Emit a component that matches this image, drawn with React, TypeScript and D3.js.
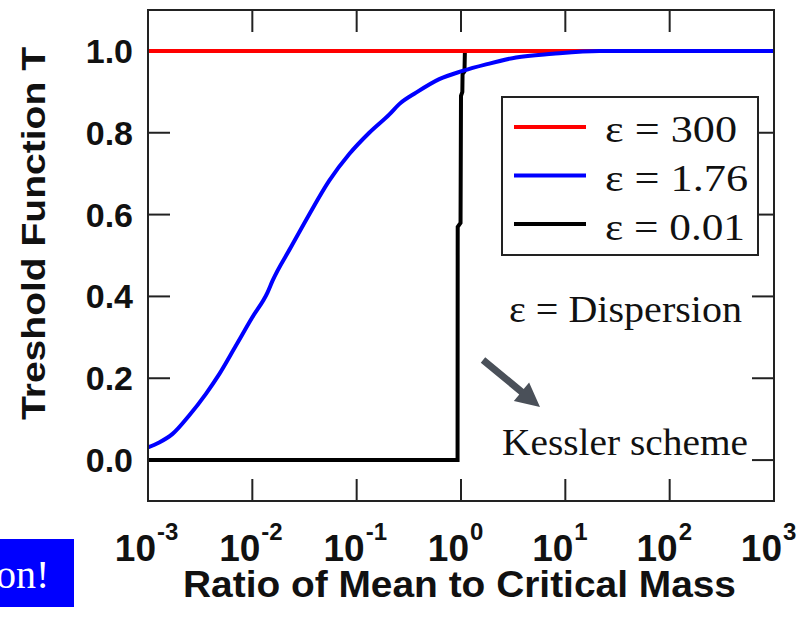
import React from "react";
import * as d3 from "d3";

// Threshold function T versus ratio of mean to critical mass, for three dispersions
const blueX = [0.001, 0.00128, 0.00172, 0.00248, 0.00359, 0.00482, 0.00697, 0.01, 0.014, 0.0156, 0.0234, 0.0338, 0.0546, 0.0849, 0.132, 0.206, 0.256, 0.371, 0.619, 1.035, 1.74, 3.37, 7.55, 21.2, 1000];
const blueT = [0.031, 0.043, 0.064, 0.109, 0.162, 0.21, 0.28, 0.349, 0.41, 0.438, 0.52, 0.593, 0.683, 0.748, 0.8, 0.845, 0.87, 0.898, 0.931, 0.951, 0.967, 0.984, 0.993, 1.0, 1.0];

const redX = [0.001, 1000];
const redT = [1.0, 1.0];

const blackX = [0.001, 0.927, 0.93, 0.99, 1.0, 1.03, 1.035, 1.08, 1.09, 1000];
const blackT = [0, 0, 0.57, 0.58, 0.89, 0.9, 0.943, 0.95, 1.0, 1.0];

const yTicks = [0, 0.2, 0.4, 0.6, 0.8, 1.0];
const xExponents = [-3, -2, -1, 0, 1, 2, 3];

const legendLabels = ["\u03b5 = 300", "\u03b5 = 1.76", "\u03b5 = 0.01"];
const legendWidths = [132, 143, 140];
const seriesColors = ["#ff0000", "#0000ff", "#000000"];

const W = 803;
const H = 621;
const plot = { left: 148, right: 774, top: 10, bottom: 501 };

export default function App() {
  const x = d3.scaleLog().domain([1e-3, 1e3]).range([plot.left, plot.right]);
  const y = d3.scaleLinear().domain([-0.1, 1.1]).range([plot.bottom, plot.top]);

  const line = d3
    .line<[number, number]>()
    .x((d) => x(d[0]))
    .y((d) => y(d[1]));

  const blueLine = d3
    .line<[number, number]>()
    .x((d) => x(d[0]))
    .y((d) => y(d[1]))
    .curve(d3.curveMonotoneX);

  const zip = (xs: number[], ts: number[]) => xs.map((v, i) => [v, ts[i]] as [number, number]);

  const tickLen = 22;
  const sans = "'Liberation Sans', Arial, Helvetica, sans-serif";
  const serif = "'Liberation Serif', 'Times New Roman', serif";

  // Annotation arrow pointing at the step curve
  const a0 = [483, 360];
  const a1 = [540, 407];
  const ang = Math.atan2(a1[1] - a0[1], a1[0] - a0[0]);
  const shaftW = 7;
  const headL = 24;
  const headW = 24;
  const ux = Math.cos(ang), uy = Math.sin(ang);
  const px = -uy, py = ux;
  const hb = [a1[0] - ux * headL, a1[1] - uy * headL];
  const arrowPts = [
    [a0[0] + px * shaftW / 2, a0[1] + py * shaftW / 2],
    [hb[0] + px * shaftW / 2, hb[1] + py * shaftW / 2],
    [hb[0] + px * headW / 2, hb[1] + py * headW / 2],
    [a1[0], a1[1]],
    [hb[0] - px * headW / 2, hb[1] - py * headW / 2],
    [hb[0] - px * shaftW / 2, hb[1] - py * shaftW / 2],
    [a0[0] - px * shaftW / 2, a0[1] - py * shaftW / 2],
  ];

  const legend = { x: 502, y: 97, w: 256, h: 158 };

  return (
    <svg
      width={W}
      height={H}
      style={{ position: "absolute", left: 0, top: 0, background: "#fff" }}
    >
      <rect x={0} y={0} width={W} height={H} fill="#fff" />

      {/* inward ticks on all four sides */}
      <g stroke="#222" strokeWidth={2}>
        {yTicks.map((t) => (
          <g key={"yt" + t}>
            <line x1={plot.left} x2={plot.left + tickLen} y1={y(t)} y2={y(t)} />
            <line x1={plot.right} x2={plot.right - tickLen} y1={y(t)} y2={y(t)} />
          </g>
        ))}
        {xExponents.slice(1, -1).map((e) => (
          <g key={"xt" + e}>
            <line x1={x(10 ** e)} x2={x(10 ** e)} y1={plot.bottom} y2={plot.bottom - tickLen} />
            <line x1={x(10 ** e)} x2={x(10 ** e)} y1={plot.top} y2={plot.top + tickLen} />
          </g>
        ))}
      </g>

      {/* series */}
      <path d={line(zip(blackX, blackT)) || ""} fill="none" stroke={seriesColors[2]} strokeWidth={4} />
      <path d={line(zip(redX, redT)) || ""} fill="none" stroke={seriesColors[0]} strokeWidth={4} />
      <path d={blueLine(zip(blueX, blueT)) || ""} fill="none" stroke={seriesColors[1]} strokeWidth={4} />

      <rect
        x={plot.left}
        y={plot.top}
        width={plot.right - plot.left}
        height={plot.bottom - plot.top}
        fill="none"
        stroke="#222"
        strokeWidth={2}
      />

      {/* y tick labels */}
      <g fontFamily={sans} fontWeight="bold" fontSize={34} fill="#111" textAnchor="end">
        {yTicks.map((t) => (
          <text key={"yl" + t} x={133} y={y(t) + 12}>
            {t.toFixed(1)}
          </text>
        ))}
      </g>

      {/* x tick labels as powers of ten */}
      <g fontFamily={sans} fontWeight="bold" fill="#111">
        {xExponents.map((e) => (
          <g key={"xl" + e}>
            <text x={x(10 ** e) + 8} y={561} fontSize={37} textAnchor="end">
              10
            </text>
            <text x={x(10 ** e) + 9} y={540} fontSize={24} textAnchor="start">
              {String(e)}
            </text>
          </g>
        ))}
      </g>

      {/* axis titles */}
      <text
        x={459.5}
        y={597}
        textAnchor="middle"
        fontFamily={sans}
        fontWeight="bold"
        fontSize={36}
        fill="#111"
        textLength={553}
        lengthAdjust="spacingAndGlyphs"
      >
        Ratio of Mean to Critical Mass
      </text>
      <text
        transform={`translate(45, 233.5) rotate(-90)`}
        textAnchor="middle"
        fontFamily={sans}
        fontWeight="bold"
        fontSize={34}
        fill="#111"
        textLength={373}
        lengthAdjust="spacingAndGlyphs"
      >
        Treshold Function T
      </text>

      {/* legend */}
      <rect x={legend.x} y={legend.y} width={legend.w} height={legend.h} fill="#fff" stroke="#222" strokeWidth={2} />
      {legendLabels.map((lab, i) => (
        <g key={lab}>
          <line
            x1={514}
            x2={586}
            y1={127 + i * 48.5}
            y2={127 + i * 48.5}
            stroke={seriesColors[i]}
            strokeWidth={4}
          />
          <text
            x={605}
            y={141.5 + i * 49}
            fontFamily={serif}
            fontSize={38}
            fill="#111"
            textLength={legendWidths[i]}
            lengthAdjust="spacingAndGlyphs"
          >
            {lab}
          </text>
        </g>
      ))}

      {/* annotations */}
      <text
        x={509}
        y={322}
        fontFamily={serif}
        fontSize={38}
        fill="#111"
        textLength={233}
        lengthAdjust="spacingAndGlyphs"
      >
        {"\u03b5 = Dispersion"}
      </text>
      <polygon points={arrowPts.map((p) => p.join(",")).join(" ")} fill="#4a5059" />
      <text
        x={502}
        y={455}
        fontFamily={serif}
        fontSize={38}
        fill="#111"
        textLength={246}
        lengthAdjust="spacingAndGlyphs"
      >
        Kessler scheme
      </text>

      {/* blue banner */}
      <rect x={0} y={539} width={74} height={68} fill="#0000ff" />
      <text x={-4} y={588} fontFamily={serif} fontSize={40} fill="#fff">
        on!
      </text>
    </svg>
  );
}
